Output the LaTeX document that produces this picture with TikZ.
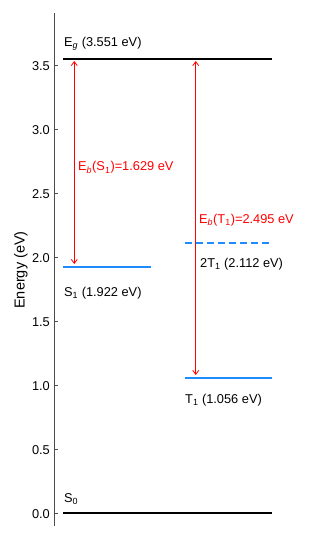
\documentclass[tikz,border=0pt]{standalone}
\usepackage{fontspec}
\setmainfont{Liberation Sans}
\usetikzlibrary{arrows.meta}
\definecolor{lvlblue}{RGB}{30,140,255}
\tikzset{
  lvlblack/.style={line width=2pt, black},
  lvlbl/.style={line width=2pt, lvlblue},
  lvldash/.style={line width=2pt, lvlblue, dash pattern=on 7pt off 4pt},
  ebarrow/.style={red, line width=0.8pt, {Straight Barb[length=4pt,width=6pt]}-{Straight Barb[length=4pt,width=6pt]}},
  lbl/.style={anchor=base west, inner sep=0pt, font=\fontsize{12.8}{14}\selectfont},
  ticklbl/.style={anchor=east, inner sep=0pt, font=\fontsize{12.8}{14}\selectfont},
}
\newcommand{\ey}[1]{513.3-128*#1}
\begin{document}
\begin{tikzpicture}[x=1pt,y=-1pt]
\useasboundingbox (0,0) rectangle (309,540);
% axis
\draw[line width=1pt, black!70] (54,13) -- (54,526);
\foreach \v in {0.0,0.5,1.0,1.5,2.0,2.5,3.0,3.5}{
  \draw[line width=0.8pt, black!70] (54,{\ey{\v}}) -- (58,{\ey{\v}});
  \node[ticklbl] at (50,{\ey{\v}+0.5}) {\v};
}
\node[rotate=90, inner sep=0pt, font=\fontsize{14.5}{16}\selectfont] (ylab) at (21,270) {Energy (eV)};
% levels
\coordinate (egL) at (63,{\ey{3.551}});
\coordinate (egR) at (272,{\ey{3.551}});
\coordinate (s1L) at (63,{\ey{1.922}});
\coordinate (s1R) at (151,{\ey{1.922}});
\coordinate (ttL) at (185,{\ey{2.112}});
\coordinate (ttR) at (272,{\ey{2.112}});
\coordinate (t1L) at (185,{\ey{1.056}});
\coordinate (t1R) at (272,{\ey{1.056}});
\coordinate (s0L) at (63,{\ey{0}});
\coordinate (s0R) at (272,{\ey{0}});
\draw[lvlblack] (egL) -- (egR);
\draw[lvlbl] (s1L) -- (s1R);
\draw[lvldash] (ttL) -- (ttR);
\draw[lvlbl] (t1L) -- (t1R);
\draw[lvlblack] (s0L) -- (s0R);
% arrow anchors
\coordinate (a1top) at (74.3,61);
\coordinate (a1bot) at (74.3,264);
\coordinate (a2top) at (195.7,61);
\coordinate (a2bot) at (195.7,375);
\draw[ebarrow] (a1bot) -- (a1top);
\draw[ebarrow] (a2bot) -- (a2top);
% labels
\node[lbl] (egl) at (64,47) {E\textsubscript{\textit{g}} (3.551 eV)};
\node[lbl, red] (ebs) at (78,171) {E\textsubscript{\textit{b}}(S\textsubscript{1})=1.629 eV};
\node[lbl, red] (ebt) at (199,223) {E\textsubscript{\textit{b}}(T\textsubscript{1})=2.495 eV};
\node[lbl] (ttl) at (200,267) {2T\textsubscript{1} (2.112 eV)};
\node[lbl] (s1l) at (64,296) {S\textsubscript{1} (1.922 eV)};
\node[lbl] (t1l) at (185,403) {T\textsubscript{1} (1.056 eV)};
\node[lbl] (s0l) at (64,502) {S\textsubscript{0}};
\end{tikzpicture}
\end{document}
